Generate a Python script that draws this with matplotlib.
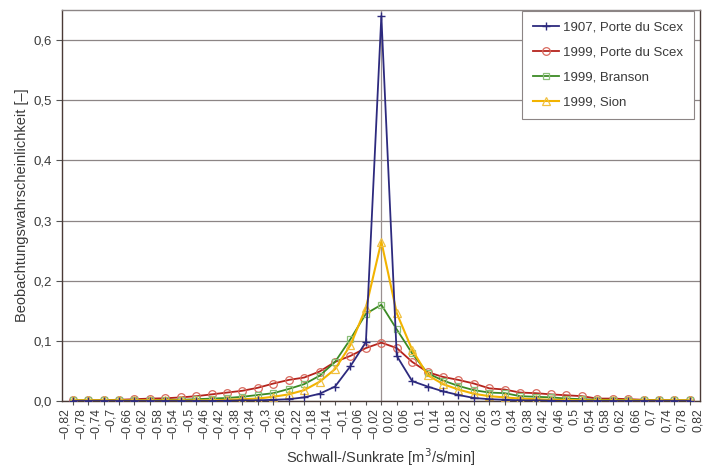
import matplotlib.pyplot as plt
import numpy as np

plt.rcParams['font.family'] = ['Liberation Sans', 'DejaVu Sans']

# data points sit every 0.04 from -0.80 to 0.80
x = np.round(np.arange(-0.80, 0.801, 0.04), 2)

blue_1907 = [0.0, 0.0, 0.0, 0.0, 0.0, 0.0, 0.0, 0.0, 0.0, 0.0,
             0.0005, 0.001, 0.001, 0.002, 0.003, 0.006, 0.012, 0.024, 0.058, 0.098,
             0.640,
             0.075, 0.033, 0.024, 0.016, 0.010, 0.005, 0.003, 0.002, 0.001, 0.001,
             0.0005, 0.0, 0.0, 0.0, 0.0, 0.0, 0.0, 0.0, 0.0, 0.0]
red_1999 = [0.001, 0.001, 0.0015, 0.002, 0.003, 0.004, 0.0045, 0.006, 0.008, 0.011,
            0.014, 0.017, 0.022, 0.029, 0.035, 0.039, 0.049, 0.065, 0.075, 0.088,
            0.097,
            0.088, 0.065, 0.048, 0.040, 0.035, 0.029, 0.021, 0.019, 0.014, 0.013,
            0.011, 0.0095, 0.008, 0.004, 0.004, 0.003, 0.002, 0.0015, 0.001, 0.001]
green_branson = [0.001, 0.001, 0.001, 0.001, 0.001, 0.001, 0.002, 0.002, 0.003, 0.004,
                 0.005, 0.007, 0.010, 0.013, 0.020, 0.028, 0.042, 0.065, 0.103, 0.145,
                 0.160,
                 0.119, 0.079, 0.046, 0.034, 0.025, 0.018, 0.014, 0.013, 0.008, 0.007,
                 0.006, 0.004, 0.003, 0.002, 0.002, 0.0015, 0.001, 0.001, 0.001, 0.001]
yellow_sion = [0.001, 0.001, 0.001, 0.001, 0.001, 0.001, 0.001, 0.001, 0.001, 0.001,
               0.002, 0.003, 0.004, 0.007, 0.011, 0.018, 0.032, 0.053, 0.093, 0.155,
               0.265,
               0.146, 0.085, 0.043, 0.028, 0.019, 0.012, 0.008, 0.006, 0.004, 0.003,
               0.002, 0.002, 0.001, 0.001, 0.001, 0.001, 0.001, 0.001, 0.001, 0.001]

# category labels every 0.04 from -0.82 to 0.82
label_vals = np.round(np.arange(-0.82, 0.821, 0.04), 2)


def fmt(v):
    s = ('%.2f' % abs(v)).rstrip('0').replace('.', ',')
    return ('\u2212' + s) if v < 0 else s


fig = plt.figure(figsize=(7.14, 4.68), dpi=100)
ax = fig.add_axes([0.0868, 0.1432, 0.8935, 0.8354])

txt = '#3a3a3a'
ax.grid(axis='y', color='#8c8585', linewidth=0.9)
ax.set_axisbelow(True)
ax.axvline(0, color='#9a9090', linewidth=0.9, zorder=1)

ax.plot(x, blue_1907, color='#2d2a7e', lw=1.3, marker='+', ms=6, mew=1.0,
        label='1907, Porte du Scex', zorder=5)
ax.plot(x, red_1999, color='#b5231c', lw=1.3, marker='o', ms=5.5, mfc='none',
        mec='#d86a5e', mew=0.9, label='1999, Porte du Scex', zorder=3)
ax.plot(x, green_branson, color='#3b8a24', lw=1.3, marker='s', ms=5, mfc='none',
        mec='#8abf78', mew=0.9, label='1999, Branson', zorder=3)
ax.plot(x, yellow_sion, color='#f2b300', lw=1.5, marker='^', ms=5.5, mfc='none',
        mec='#f0c040', mew=0.9, label='1999, Sion', zorder=4)

ax.set_xlim(-0.828, 0.826)
ax.set_ylim(0, 0.65)
ax.set_yticks(np.arange(0, 0.61, 0.1))
ax.set_yticklabels(['0,0', '0,1', '0,2', '0,3', '0,4', '0,5', '0,6'])
ax.set_xticks(label_vals)
ax.set_xticklabels([fmt(v) for v in label_vals], rotation=90)
ax.set_xticks(x, minor=True)
ax.tick_params(axis='x', which='major', length=0, labelsize=8.7, colors=txt, pad=5)
ax.tick_params(axis='x', which='minor', length=3, color='#555555', width=0.8)
ax.tick_params(axis='y', length=4, labelsize=9.5, colors=txt, color='#555555')

for s in ax.spines.values():
    s.set_color('#4a3a36')
    s.set_linewidth(1.0)
ax.spines['top'].set_color('#8c8585')

ax.set_xlabel('Schwall-/Sunkrate [m$^3$/s/min]', fontsize=10.5, color=txt, labelpad=5)
ax.set_ylabel('Beobachtungswahrscheinlichkeit [\u2013]', fontsize=10.5, color=txt, labelpad=3)

leg = ax.legend(loc='upper right', bbox_to_anchor=(0.99, 0.997), fontsize=9.5, frameon=True,
                fancybox=False, edgecolor='#8c8585', framealpha=1, handlelength=2.0,
                labelspacing=0.95, borderpad=0.8, handletextpad=0.3, borderaxespad=0.0)
leg.get_frame().set_linewidth(0.8)
for t in leg.get_texts():
    t.set_color(txt)

fig.savefig('out.png', dpi=100)
